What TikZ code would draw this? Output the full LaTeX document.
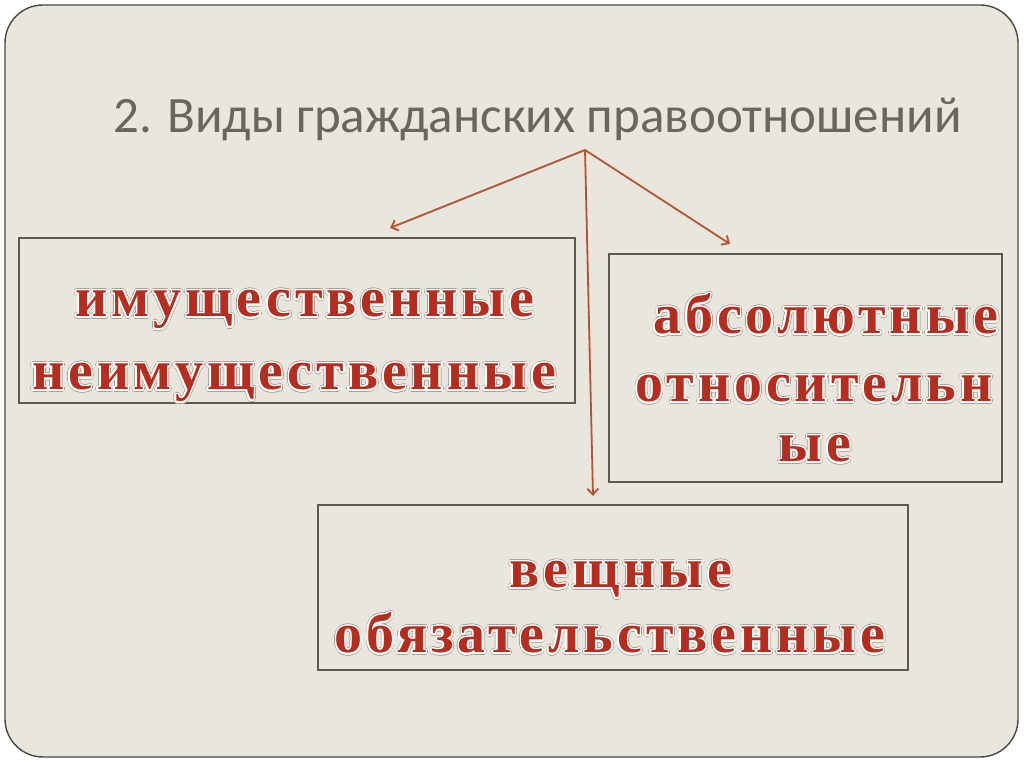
\documentclass[tikz,border=0pt]{standalone}
\usepackage{fontspec}
\setmainfont{Liberation Serif}
\newfontfamily\titlefont{Carlito}
\newfontfamily\redfont[LetterSpace=7]{Liberation Serif}
\usepackage[copies]{contour}
\usetikzlibrary{arrows.meta}
\definecolor{slidefill}{RGB}{233,230,221}
\definecolor{slideborder}{RGB}{72,72,66}
\definecolor{boxborder}{RGB}{90,88,80}
\definecolor{titlegray}{RGB}{105,102,96}
\definecolor{arrowred}{RGB}{180,83,47}
\definecolor{wordred}{RGB}{180,45,30}
\definecolor{outlinegray}{RGB}{170,160,150}
\newcommand{\redtxt}[1]{\rlap{\contourlength{2.3pt}\contour{outlinegray}{#1}}\contourlength{1.6pt}\contour{white}{#1}}
\begin{document}
\begin{tikzpicture}[x=1pt,y=1pt,
  framebox/.style={draw=boxborder,line width=1.5pt,minimum width=#1,inner sep=0pt},
  word/.style={anchor=base,inner sep=0pt,text=wordred,font=\redfont\bfseries\fontsize{56}{56}\selectfont},
  link/.style={draw=arrowred,line width=1.8pt,-{Straight Barb[length=6pt,width=11pt,line width=1.8pt]}}]
\useasboundingbox (0,0) rectangle (1024,767);
\fill[white] (0,0) rectangle (1024,767);
\draw[fill=slidefill,draw=slideborder,line width=1.4pt,rounded corners=38pt] (5,10) rectangle (1018,762);
% title
\node[anchor=base west,inner sep=0pt,text=titlegray,font=\titlefont\fontsize{51}{51}\selectfont] (title) at (113,634) {2. Виды гражданских правоотношений};
% boxes
\node[framebox=556pt,minimum height=165pt] (box1) at (297,446.5) {};
\node[framebox=393pt,minimum height=228pt] (box2) at (805.5,399) {};
\node[framebox=590pt,minimum height=165pt] (box3) at (613,179.5) {};
% words
\node[word] (w11) at (305,450) {\redtxt{имущественные}};
\node[word] (w12) at (294,377) {\redtxt{неимущественные}};
\node[word] (w21) at (826,433) {\redtxt{абсолютные}};
\node[word] (w22) at (814,365) {\redtxt{относительн}};
\node[word] (w23) at (815,305) {\redtxt{ые}};
\node[word] (w31) at (621,179) {\redtxt{вещные}};
\node[word] (w32) at (610,114) {\redtxt{обязательственные}};
% arrows
\coordinate (src) at (585,617);
\coordinate (tipL) at (390,539);
\coordinate (tipR) at (730,523);
\coordinate (tipD) at (593,271);
\draw[link] (src) -- (tipL);
\draw[link] (src) -- (tipR);
\draw[link] (src) -- (tipD);
\end{tikzpicture}
\end{document}
